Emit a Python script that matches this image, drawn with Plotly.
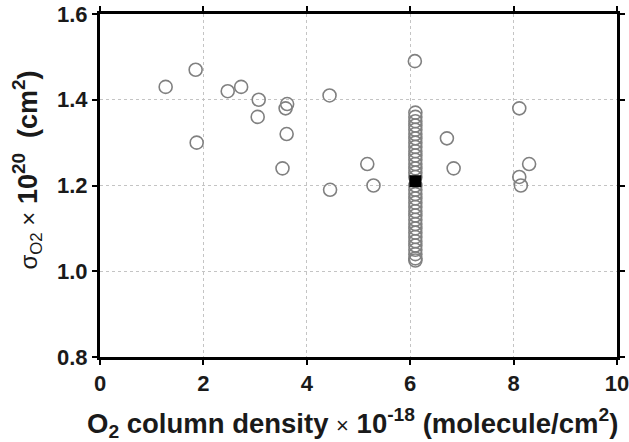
import plotly.graph_objects as go

# Individual measurements (open circles)
x_pts = [1.27, 1.85, 1.87, 2.47, 2.73, 3.07, 3.05, 3.62, 3.59, 3.61, 3.53,
         4.44, 4.45, 5.17, 5.29, 6.09, 6.71, 6.84, 8.11, 8.30, 8.11, 8.14]
y_pts = [1.43, 1.47, 1.30, 1.42, 1.43, 1.40, 1.36, 1.39, 1.38, 1.32, 1.24,
         1.41, 1.19, 1.25, 1.20, 1.49, 1.31, 1.24, 1.38, 1.25, 1.22, 1.20]

# Dense column of measurements at one column density
col_x = 6.1
col_y = [1.37, 1.36, 1.35, 1.34, 1.33, 1.32, 1.31, 1.30, 1.29, 1.28, 1.27,
         1.26, 1.25, 1.24, 1.23, 1.22, 1.20, 1.19, 1.18, 1.17, 1.16, 1.15,
         1.14, 1.13, 1.12, 1.11, 1.10, 1.09, 1.08, 1.07, 1.06, 1.05, 1.04,
         1.03, 1.025]

# Mean value (filled black square)
mean_x = [6.1]
mean_y = [1.21]

x_ticks = [0, 2, 4, 6, 8, 10]
y_ticks = [0.8, 1.0, 1.2, 1.4, 1.6]

x_title = ("<b>O<sub>2</sub> column density</b> "
           "<span style='font-weight:normal;font-size:22px'>×</span> "
           "<b>10<sup>-18</sup> (molecule/cm<sup>2</sup>)</b>")
y_title = ("<span style='font-size:24px'>σ<sub>O2</sub> ×</span> "
           "<b>10<sup>20</sup>  (cm<sup>2</sup>)</b>")

grey = "#808080"
txt = "#1a1a1a"
fam = "Liberation Sans, Arial"

fig = go.Figure()
fig.add_trace(go.Scatter(
    x=x_pts, y=y_pts, mode="markers",
    marker=dict(symbol="circle-open", size=13, color=grey, line=dict(width=1.6, color=grey)),
    showlegend=False))
fig.add_trace(go.Scatter(
    x=[col_x] * len(col_y), y=col_y, mode="markers",
    marker=dict(symbol="circle-open", size=13, color=grey, line=dict(width=1.6, color=grey)),
    showlegend=False))
fig.add_trace(go.Scatter(
    x=mean_x, y=mean_y, mode="markers",
    marker=dict(symbol="square", size=12, color="black"),
    showlegend=False))

axis_common = dict(
    showline=True, linewidth=3, linecolor="black", mirror="ticks",
    ticks="outside", ticklen=5, tickwidth=2, tickcolor="black",
    showgrid=True, gridcolor="#c4c4c4", griddash="dot", gridwidth=1,
    zeroline=False, automargin=False, ticklabeloverflow="allow",
    tickfont=dict(family=fam, size=22, color=txt, weight="bold"),
)

fig.update_xaxes(range=[0, 10], tickvals=x_ticks, ticktext=[str(v) for v in x_ticks],
                 **axis_common)
fig.update_yaxes(range=[0.8, 1.6], tickvals=y_ticks, ticktext=["%.1f" % v for v in y_ticks],
                 **axis_common)

fig.add_annotation(text=x_title, xref="paper", yref="paper", x=0.5, y=0,
                   xanchor="center", yanchor="middle", yshift=-66, xshift=-6,
                   showarrow=False,
                   font=dict(family=fam, size=27.5, color=txt))
fig.add_annotation(text=y_title, xref="paper", yref="paper", x=0, y=0.5,
                   xanchor="center", yanchor="middle", xshift=-73, yshift=15,
                   textangle=-90, showarrow=False,
                   font=dict(family=fam, size=27, color=txt))

fig.update_layout(
    width=629, height=442,
    margin=dict(l=100, r=12, t=14, b=85),
    plot_bgcolor="white", paper_bgcolor="white",
)

fig.write_html("out.html")
